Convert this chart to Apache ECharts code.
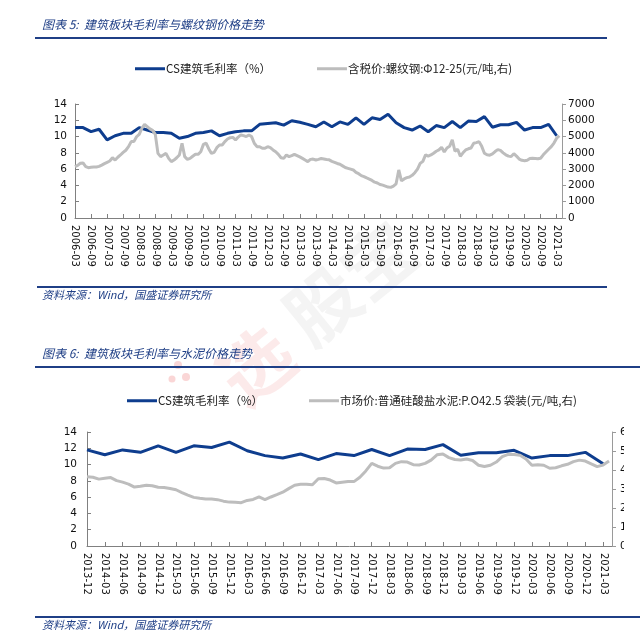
<!DOCTYPE html>
<html><head><meta charset="utf-8">
<script src="https://cdn.jsdelivr.net/npm/echarts@6/dist/echarts.min.js"></script>
<style>html,body{margin:0;padding:0;background:#fff}#c{width:640px;height:636px}</style>
</head><body><div id="c"></div>
<script>
// CS construction gross margin (%), quarterly 2006-03 .. 2021-03
const gmQuarterly = [11.1, 11.1, 10.6, 10.9, 9.6, 10.1, 10.4, 10.4, 11.1, 10.8,
  10.5, 10.5, 10.4, 9.8, 10.0, 10.4, 10.5, 10.7, 10.1, 10.4,
  10.6, 10.7, 10.7, 11.5, 11.6, 11.7, 11.4, 11.95, 11.75, 11.5,
  11.2, 11.8, 11.2, 11.8, 11.5, 12.3, 11.5, 12.3, 12.1, 12.75,
  11.7, 11.1, 10.8, 11.3, 10.6, 11.35, 11.1, 11.85, 11.1, 11.9,
  11.85, 12.45, 11.15, 11.45, 11.45, 11.75, 10.8, 11.1, 11.1, 11.5, 10.1];
// Rebar price (yuan/t), monthly from 2006-03
const rebarMonthly = [3150, 3230, 3360, 3380, 3150, 3090, 3110, 3130, 3130, 3170,
  3250, 3340, 3420, 3500, 3700, 3560, 3730, 3870, 4030, 4160,
  4380, 4690, 4690, 4990, 5140, 5510, 5750, 5610, 5470, 5380,
  5140, 3970, 3770, 3870, 3970, 3660, 3460, 3560, 3700, 3870,
  4590, 3770, 3600, 3660, 3790, 3910, 3910, 4070, 4520, 4590,
  4240, 3970, 4030, 4320, 4480, 4480, 4690, 4850, 4930, 4950,
  4790, 4970, 5100, 5060, 5000, 5100, 5000, 4590, 4380, 4380,
  4280, 4280, 4380, 4320, 4180, 4070, 3910, 3700, 3660, 3870,
  3770, 3830, 3910, 3830, 3750, 3660, 3560, 3460, 3600, 3620,
  3560, 3600, 3650, 3620, 3590, 3570, 3480, 3420, 3350, 3300,
  3200, 3100, 3050, 3000, 2950, 2800, 2720, 2600, 2540, 2460,
  2390, 2310, 2200, 2150, 2060, 2020, 1960, 1900, 1880, 1960,
  2100, 2950, 2280, 2400, 2480, 2520, 2620, 2780, 3000, 3350,
  3480, 3880, 3800, 3870, 3980, 4100, 4180, 4340, 4050, 4300,
  4400, 4800, 4100, 4220, 3790, 4000, 4180, 4250, 4300, 4590,
  4630, 4690, 4400, 3980, 3880, 3860, 3940, 4080, 4200, 4150,
  4000, 3880, 3800, 3780, 3950, 3800, 3620, 3540, 3520, 3550,
  3650, 3670, 3660, 3640, 3670, 3880, 4050, 4220, 4380, 4600,
  4900, 5050];
// Cement P.O42.5 bagged price (yuan/t), monthly from 2013-12
const cementMonthly = [365, 362, 352, 356, 360, 344, 336, 326, 310, 314,
  320, 317, 309, 308, 303, 296, 281, 268, 256, 251,
  247, 247, 244, 236, 231, 230, 228, 240, 245, 258,
  244, 258, 270, 283, 302, 320, 325, 325, 322, 354,
  355, 347, 332, 336, 339, 339, 362, 395, 435, 420,
  410, 412, 435, 444, 442, 428, 426, 435, 452, 480,
  484, 465, 455, 453, 458, 450, 425, 418, 425, 442,
  470, 482, 482, 478, 458, 425, 428, 425, 409, 412,
  422, 430, 444, 452, 447, 432, 418, 426, 447];

const nameGM = 'CS建筑毛利率（%）';
const nameRebar = '含税价:螺纹钢:Φ12-25(元/吨,右)';
const nameCement = '市场价:普通硅酸盐水泥:P.O42.5 袋装(元/吨,右)';
const title1 = '图表 5:  建筑板块毛利率与螺纹钢价格走势';
const title2 = '图表 6:  建筑板块毛利率与水泥价格走势';
const sourceText = '资料来源：Wind，国盛证券研究所';

const BLUE = '#0e3d8e', GRAY = '#bdbdbd', AX = '#808080', HEAD = '#1f3f86';
const FONT = 'DejaVu Sans';
const CJK = '"Noto Sans CJK SC", sans-serif';

function ymLabel(y0, m0) {
  return v => {
    const t = m0 + Math.round(v);
    const y = y0 + Math.floor(t / 12), m = t % 12 + 1;
    return y + '-' + (m < 10 ? '0' + m : m);
  };
}

function xAxisCfg(grid, max, interval, fmt) {
  return {
    type: 'value', gridIndex: grid, min: 0, max: max, interval: interval,
    axisLine: { lineStyle: { color: AX, width: 1 } },
    axisTick: { inside: true, length: 4, lineStyle: { color: AX } },
    splitLine: { show: false },
    axisLabel: { rotate: -90, margin: 7, color: '#111', fontFamily: FONT, fontSize: 10,
      formatter: fmt, showMaxLabel: false }
  };
}
function yLeft(grid, margin) {
  return {
    type: 'value', gridIndex: grid, min: 0, max: 14, interval: 2, position: 'left',
    axisLine: { show: true, lineStyle: { color: AX } },
    axisTick: { show: true, inside: true, length: 4, lineStyle: { color: AX } },
    splitLine: { show: false },
    axisLabel: { color: '#111', fontFamily: FONT, fontSize: 10.5, margin: margin }
  };
}
function yRight(grid, max, interval, margin) {
  return {
    type: 'value', gridIndex: grid, min: 0, max: max, interval: interval, position: 'right',
    axisLine: { show: true, lineStyle: { color: '#9a9a9a' } },
    axisTick: { show: true, inside: false, length: 4, lineStyle: { color: '#9a9a9a' } },
    splitLine: { show: false },
    axisLabel: { color: '#111', fontFamily: FONT, fontSize: 10.5, margin: margin,
      formatter: v => String(v) }
  };
}
function legendCfg(left, top, names) {
  return {
    left: left, top: top, data: names, icon: 'rect', itemWidth: 30, itemHeight: 3,
    itemGap: 46, textStyle: { fontFamily: CJK, fontSize: 11.5, color: '#222', padding: [0, 0, 0, -4] },
    selectedMode: false
  };
}
function line(name, data, xi, yi, color, z) {
  return { name: name, type: 'line', data: data, xAxisIndex: xi, yAxisIndex: yi,
    showSymbol: false, symbol: 'none', z: z,
    lineStyle: { color: color, width: 3 }, itemStyle: { color: color } };
}

const chart = echarts.init(document.getElementById('c'), null, { renderer: 'canvas' });
chart.setOption({
  animation: false,
  backgroundColor: '#fff',
  grid: [
    { left: 75, right: 78, top: 104, bottom: 418, containLabel: false, outerBoundsMode: 'none' },
    { left: 87, right: 28, top: 432, bottom: 90, containLabel: false, outerBoundsMode: 'none' }
  ],
  xAxis: [
    xAxisCfg(0, 182, 6, ymLabel(2006, 2)),
    xAxisCfg(1, 88.5, 3, ymLabel(2013, 11))
  ],
  yAxis: [
    yLeft(0, 8), yRight(0, 7000, 1000, 6),
    yLeft(1, 10), yRight(1, 600, 100, 8)
  ],
  legend: [
    legendCfg(130, 58, [nameGM, nameRebar]),
    legendCfg(122, 390, [nameGM, nameCement])
  ],
  series: [
    line(nameGM, gmQuarterly.map((v, i) => [i * 3, v]), 0, 0, BLUE, 2),
    line(nameRebar, rebarMonthly.map((v, i) => [i, v]), 0, 1, GRAY, 3),
    line(nameGM, gmQuarterly.slice(31).map((v, i) => [i * 3, v]), 1, 2, BLUE, 2),
    line(nameCement, cementMonthly.map((v, i) => [i, v]), 1, 3, GRAY, 3)
  ],
  graphic: [
    { type: 'text', left: 42, top: 18, z: 10,
      style: { text: title1, font: 'italic 12px ' + CJK, fill: HEAD } },
    { type: 'rect', shape: { x: 35, y: 37, width: 572, height: 2 }, style: { fill: HEAD }, z: 10 },
    { type: 'rect', shape: { x: 37, y: 286, width: 570, height: 2 }, style: { fill: HEAD }, z: 10 },
    { type: 'text', left: 42, top: 289, z: 10,
      style: { text: sourceText, font: 'italic 11px ' + CJK, fill: HEAD } },
    { type: 'text', left: 42, top: 347, z: 10,
      style: { text: title2, font: 'italic 12px ' + CJK, fill: HEAD } },
    { type: 'rect', shape: { x: 35, y: 366, width: 605, height: 2 }, style: { fill: HEAD }, z: 10 },
    { type: 'rect', shape: { x: 35, y: 616, width: 605, height: 2 }, style: { fill: HEAD }, z: 10 },
    { type: 'text', left: 42, top: 619, z: 10,
      style: { text: sourceText, font: 'italic 11px ' + CJK, fill: HEAD } },
    // cropped right edge of second chart
    { type: 'rect', shape: { x: 624, y: 420, width: 16, height: 140 }, style: { fill: '#fff' }, z: 100 },
    // watermark
    { type: 'text', x: 205, y: 360, rotation: Math.PI / 4.6, z: 0, silent: true,
      style: { text: '选', font: 'bold 72px ' + CJK, fill: 'rgba(240,150,150,0.2)' } },
    { type: 'text', x: 272, y: 300, rotation: Math.PI / 4.6, z: 0, silent: true,
      style: { text: '股宝', font: 'bold 72px ' + CJK, fill: 'rgba(170,170,170,0.13)' } },
    { type: 'circle', shape: { cx: 178, cy: 365, r: 4 }, style: { fill: 'rgba(240,120,120,0.3)' }, z: 0 },
    { type: 'circle', shape: { cx: 186, cy: 377, r: 4 }, style: { fill: 'rgba(240,120,120,0.3)' }, z: 0 },
    { type: 'circle', shape: { cx: 172, cy: 379, r: 3.5 }, style: { fill: 'rgba(240,120,120,0.3)' }, z: 0 }
  ]
});
</script></body></html>
